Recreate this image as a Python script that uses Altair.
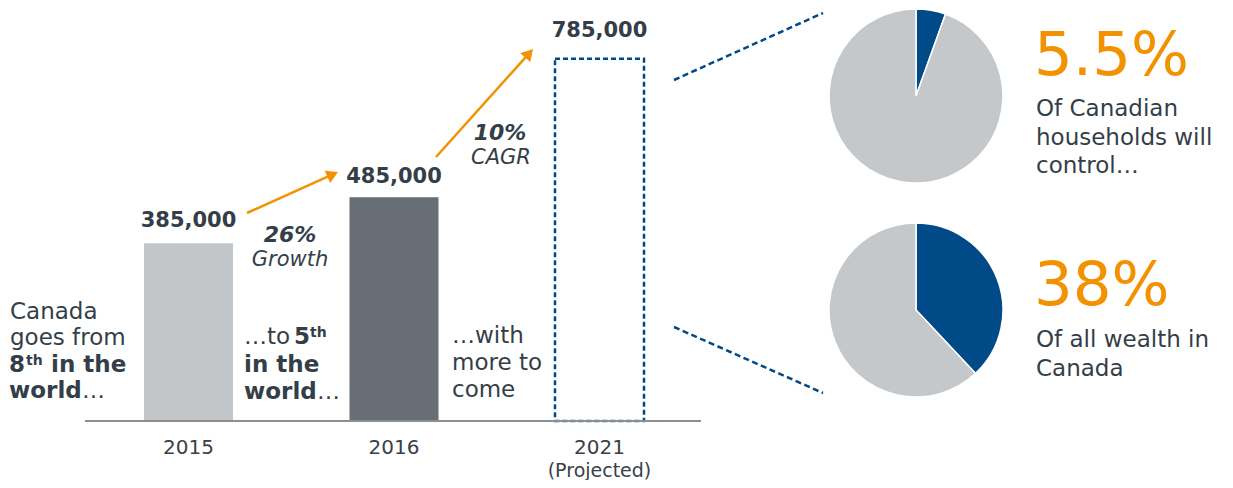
import math
import altair as alt
import pandas as pd

# ---------------- data ----------------
YEARS = ["2015", "2016", "2021"]
YEAR_NOTES = ["", "", "(Projected)"]
HOUSEHOLDS = [385000, 485000, 785000]
GROWTH_RATES = ["26%", "10%"]
GROWTH_WORDS = ["Growth", "CAGR"]
PIE_SHARES = [5.5, 38.0]
PIE_HEADLINES = ["5.5%", "38%"]
PIE_CAPTIONS = [["Of Canadian", "households will", "control\u2026"],
                ["Of all wealth in", "Canada"]]

# ---------------- style ----------------
FONT = "DejaVu Sans"
TEXT = "#333e48"
LIGHT = "#c3c6c9"
DARK = "#676e75"
BLUE = "#004b87"
ORANGE = "#f39200"
PIEGRAY = "#c5c8cb"
AXISGRAY = "#8e8e8e"

# ---------------- layout (page pixels of the reference) ----------------
W, H = 1217, 472
M = 8
SLOT_PX = 205.5          # distance between bar centres
SLOT1_PX = 188.5         # centre of the first bar
BASE_PX = 421            # baseline
PX_PER_HH = 4.615e-4     # pixels per household
BAR_HALF = 44.5 / SLOT_PX
LABEL_GAP = [16, 14, 22]
PIE_CENTERS = [(916, 96), (916, 310)]
PIE_R = 87


def ux(px):
    return 1 + (px - SLOT1_PX) / SLOT_PX


def vy(py):
    return (BASE_PX - py) / PX_PER_HH


XS = alt.Scale(domain=[ux(M), ux(M + W)], nice=False, zero=False)
YS = alt.Scale(domain=[vy(M + H), vy(M)], nice=False, zero=False)

layers = []

# ---------------- bars ----------------
bars_df = pd.DataFrame({
    "year": YEARS,
    "idx": [1, 2, 3],
    "hh": HOUSEHOLDS,
    "label": [f"{v:,}" for v in HOUSEHOLDS],
    "gap": LABEL_GAP,
})
base = alt.Chart(bars_df).transform_calculate(
    x0=f"datum.idx - {BAR_HALF}", x1=f"datum.idx + {BAR_HALF}"
)
layers.append(
    base.transform_filter("datum.idx < 3").mark_bar().encode(
        x=alt.X("x0:Q", scale=XS, axis=None), x2="x1:Q",
        y=alt.Y("hh:Q", scale=YS, axis=None), y2=alt.datum(0),
        color=alt.Color("year:N", scale=alt.Scale(domain=YEARS[:2], range=[LIGHT, DARK]),
                        legend=None),
    )
)
layers.append(
    base.transform_filter("datum.idx == 3").mark_bar(
        fill="white", fillOpacity=0, stroke=BLUE, strokeWidth=2.5, strokeDash=[5, 3]
    ).encode(
        x=alt.X("x0:Q", scale=XS, axis=None), x2="x1:Q",
        y=alt.Y("hh:Q", scale=YS, axis=None), y2=alt.datum(0),
    )
)
layers.append(
    base.transform_calculate(ly=f"datum.hh + datum.gap / {PX_PER_HH}").mark_text(
        font=FONT, fontSize=21, fontWeight="bold", color=TEXT, baseline="alphabetic"
    ).encode(
        x=alt.X("idx:Q", scale=XS, axis=None),
        y=alt.Y("ly:Q", scale=YS, axis=None),
        text="label:N",
    )
)


# ---------------- rules (axis, arrows, connectors) ----------------
def rule_layer(segments, **style):
    df = pd.DataFrame([{"x": ux(a[0]), "y": vy(a[1]), "x2": ux(b[0]), "y2": vy(b[1])}
                       for a, b in segments])
    return alt.Chart(df).mark_rule(**style).encode(
        x=alt.X("x:Q", scale=XS, axis=None), x2="x2:Q",
        y=alt.Y("y:Q", scale=YS, axis=None), y2="y2:Q",
    )


layers.append(rule_layer([((85, BASE_PX), (701, BASE_PX))], color=AXISGRAY, strokeWidth=2))

ARROWS = [((247, 213), (338, 172)), ((436, 157), (533, 49))]
HEAD = 5.8
arrow_segs, heads = [], []
for (sx, sy), (tx, ty) in ARROWS:
    dx, dy = tx - sx, ty - sy
    L = math.hypot(dx, dy)
    cx, cy = tx - HEAD * dx / L, ty - HEAD * dy / L
    arrow_segs.append(((sx, sy), (cx, cy)))
    heads.append({"x": ux(cx), "y": vy(cy), "ang": math.degrees(math.atan2(dx, -dy))})
layers.append(rule_layer(arrow_segs, color=ORANGE, strokeWidth=2.5))
layers.append(
    alt.Chart(pd.DataFrame(heads)).mark_point(
        shape="triangle-up", filled=True, size=180, color=ORANGE, opacity=1
    ).encode(
        x=alt.X("x:Q", scale=XS, axis=None), y=alt.Y("y:Q", scale=YS, axis=None),
        angle=alt.Angle("ang:Q", scale=None),
    )
)

CONNECTORS = [((674, 80), (823, 13)), ((674, 327), (823, 393))]
layers.append(rule_layer(CONNECTORS, color=BLUE, strokeWidth=2.5, strokeDash=[6, 3.5]))

# ---------------- pies ----------------
for share, (pcx, pcy) in zip(PIE_SHARES, PIE_CENTERS):
    pdf = pd.DataFrame({"part": ["share", "rest"], "v": [share, 100 - share], "o": [0, 1]})
    layers.append(
        alt.Chart(pdf).mark_arc(outerRadius=PIE_R, stroke="white", strokeWidth=1.5).encode(
            theta=alt.Theta("v:Q", stack=True),
            order=alt.Order("o:Q"),
            color=alt.Color("part:N", scale=alt.Scale(domain=["share", "rest"],
                                                      range=[BLUE, PIEGRAY]), legend=None),
            x=alt.XDatum(ux(pcx), type="quantitative", scale=XS, axis=None),
            y=alt.YDatum(vy(pcy), type="quantitative", scale=YS, axis=None),
        )
    )


# ---------------- texts ----------------
def text_layer(rows, **style):
    df = pd.DataFrame([{"t": t, "x": ux(px), "y": vy(py)} for t, px, py in rows])
    kw = dict(font=FONT, color=TEXT, baseline="alphabetic", align="left")
    kw.update(style)
    return alt.Chart(df).mark_text(**kw).encode(
        x=alt.X("x:Q", scale=XS, axis=None), y=alt.Y("y:Q", scale=YS, axis=None),
        text="t:N",
    )


# year labels
layers.append(text_layer(
    [(y, SLOT1_PX + i * SLOT_PX, 454) for i, y in enumerate(YEARS)],
    fontSize=20, align="center", color="#3a4048"))
layers.append(text_layer(
    [(n, SLOT1_PX + i * SLOT_PX, 477) for i, n in enumerate(YEAR_NOTES) if n],
    fontSize=19, align="center", color="#3a4048"))

# narrative, regular
layers.append(text_layer([
    ("Canada", 10, 319), ("goes from", 10, 345), ("\u2026", 82, 398),
    ("\u2026to", 244, 344), ("\u2026", 317, 399),
    ("\u2026with", 452, 343), ("more to", 452, 370), ("come", 452, 397),
], fontSize=23))
# narrative, bold
layers.append(text_layer([
    ("8", 9, 372), ("in the", 51, 372), ("world", 9, 398),
    ("5", 294, 344), ("in the", 244, 372), ("world", 244, 399),
], fontSize=23, fontWeight="bold"))
# superscripts
layers.append(text_layer([("th", 26, 365), ("th", 310, 337)], fontSize=14, fontWeight="bold"))

# growth notes
layers.append(text_layer([(GROWTH_RATES[0], 290, 242), (GROWTH_RATES[1], 500, 140)],
                         fontSize=22, fontWeight="bold", fontStyle="italic", align="center"))
layers.append(text_layer([(GROWTH_WORDS[0], 290, 266), (GROWTH_WORDS[1], 501, 164)],
                         fontSize=21, fontStyle="italic", align="center"))

# pie headlines and captions
layers.append(text_layer([(PIE_HEADLINES[0], 1034, 75), (PIE_HEADLINES[1], 1034, 305)],
                         fontSize=61, color=ORANGE))
cap_rows = []
for lines, top in zip(PIE_CAPTIONS, [116, 347]):
    for j, line in enumerate(lines):
        cap_rows.append((line, 1036, top + j * 28.5))
layers.append(text_layer(cap_rows, fontSize=23))

chart = alt.layer(*layers).properties(
    width=W, height=H, padding=0, autosize=alt.AutoSizeParams(type="none")
).resolve_scale(color="independent").configure_view(stroke=None)

chart.save("out.html", embed_options={"renderer": "svg", "actions": False})
